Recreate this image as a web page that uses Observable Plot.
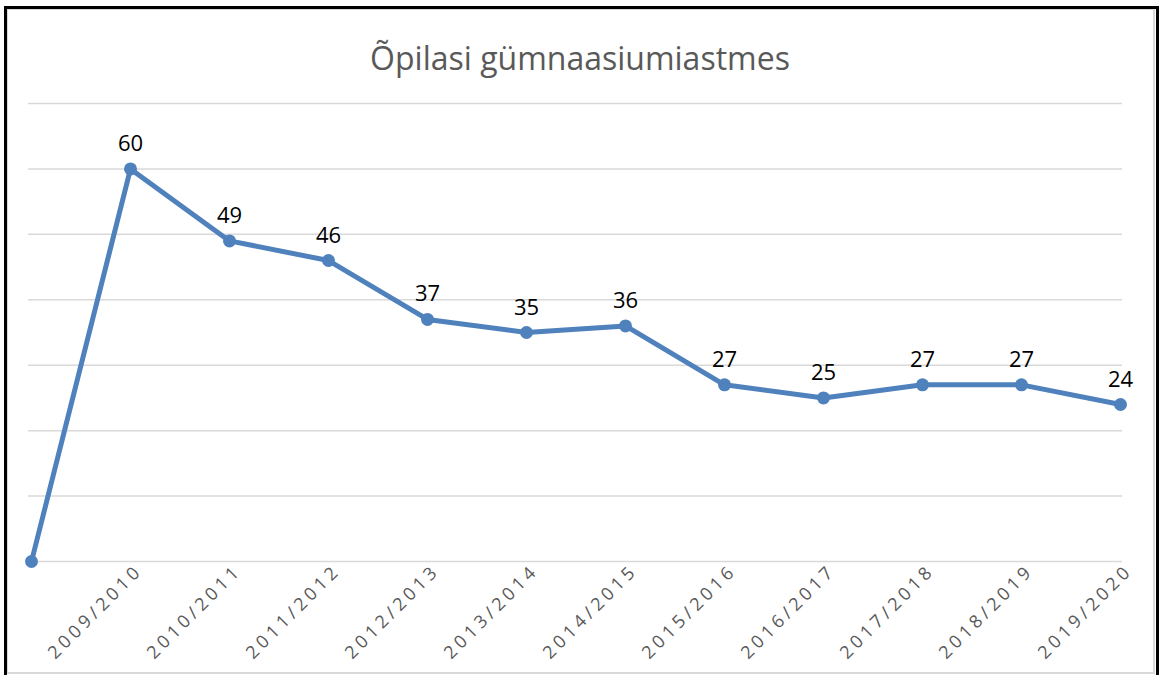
<!DOCTYPE html>
<html>
<head>
<meta charset="utf-8">
<script src="https://cdn.jsdelivr.net/npm/d3@7"></script>
<script src="https://cdn.jsdelivr.net/npm/@observablehq/plot@0.6"></script>
<style>
  html, body { margin: 0; padding: 0; background: #fff; }
  #page { position: relative; width: 1173px; height: 675px; overflow: hidden; font-family: "Open Sans", sans-serif; }
  .b { position: absolute; z-index: 5; }
  #title { position: absolute; left: 0; top: 36px; width: 1160px; text-align: center; font-size: 32px; color: #595959; }
  #chart { position: absolute; left: 0; top: 90px; }
</style>
</head>
<body>
<div id="page">
  <div id="title">Õpilasi gümnaasiumiastmes</div>
  <div id="chart"></div>
  <div class="b" style="left:4px;top:6px;width:1155px;height:3px;background:#000"></div>
  <div class="b" style="left:4px;top:6px;width:3px;height:669px;background:#000"></div>
  <div class="b" style="left:1156px;top:6px;width:3px;height:669px;background:#000"></div>
  <div class="b" style="left:7px;top:9px;width:1147px;height:1px;background:#d9d9d9"></div>
  <div class="b" style="left:7px;top:9px;width:1px;height:664px;background:#d9d9d9"></div>
  <div class="b" style="left:1153px;top:9px;width:2px;height:664px;background:#d9d9d9"></div>
  <div class="b" style="left:7px;top:672px;width:1148px;height:2px;background:#d9d9d9"></div>
</div>
<script>
const years = ["", "2009/2010", "2010/2011", "2011/2012", "2012/2013", "2013/2014", "2014/2015",
               "2015/2016", "2016/2017", "2017/2018", "2018/2019", "2019/2020"];
const students = [0, 60, 49, 46, 37, 35, 36, 27, 25, 27, 27, 24];
const yTicks = [0, 10, 20, 30, 40, 50, 60, 70];

const data = years.map((y, i) => ({year: y, value: students[i], labelled: i > 0}));
const blue = "#4f81bd";

const chart = Plot.plot({
  width: 1173,
  height: 585,
  marginLeft: 28,
  marginRight: 51,
  marginTop: 13,
  marginBottom: 114,
  style: {fontFamily: "Open Sans, sans-serif", background: "transparent", overflow: "visible"},
  x: {type: "point", domain: years, padding: 0, inset: 0, axis: null},
  y: {domain: [0, 70], axis: null},
  marks: [
    Plot.ruleY(yTicks, {stroke: "#d9d9d9", strokeWidth: 1.5}),
    Plot.text(years.filter(y => y !== ""), {
      x: d => d, frameAnchor: "bottom", rotate: -45, textAnchor: "end", lineAnchor: "middle",
      dx: 9, dy: 6, fontSize: 18, fill: "#595959"
    }),
    Plot.line(data, {x: "year", y: "value", stroke: blue, strokeWidth: 5, strokeLinejoin: "round"}),
    Plot.dot(data, {x: "year", y: "value", r: 6.5, fill: blue, stroke: "none"}),
    Plot.text(data.filter(d => d.labelled), {x: "year", y: "value", text: d => String(d.value), dy: -25, fontSize: 22, fill: "#000"})
  ]
});
d3.select(chart).selectAll("text")
  .filter(function() { const t = this.getAttribute("transform") || ""; return t.includes("rotate"); })
  .attr("letter-spacing", "4px")
  .style("letter-spacing", "4px");
document.getElementById("chart").appendChild(chart);
</script>
</body>
</html>
